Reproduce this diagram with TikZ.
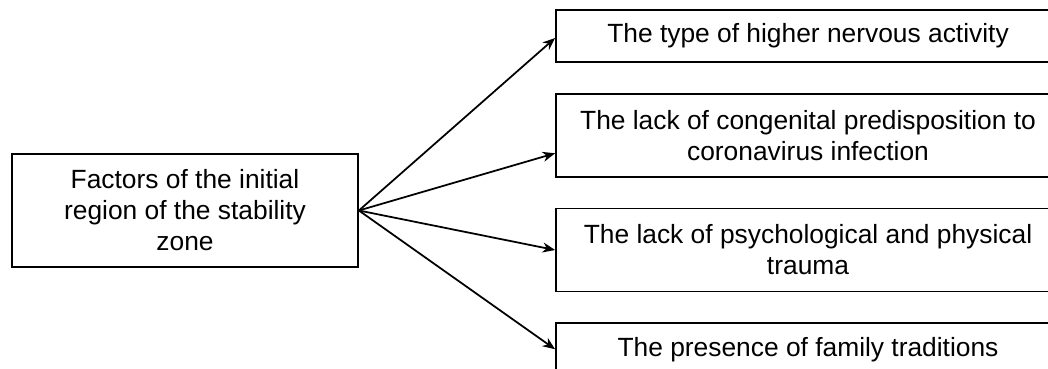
\documentclass[tikz,border=0pt]{standalone}
\usepackage{fontspec}
\setmainfont{Liberation Sans}
\usepackage{tikz}
\usetikzlibrary{positioning, calc, arrows.meta}

\begin{document}
\begin{tikzpicture}[
        node distance=0.6cm,
        origin/.style={
          align=center, draw, line width=1pt, minimum width=6.92cm, minimum height=2.26cm,
          font=\fontsize{15}{17.6}\selectfont
        },
        factor/.style={
          align=center, draw, line width=1pt, minimum width=10.08cm, minimum height=1.04cm,
          font=\fontsize{15}{17.6}\selectfont
        },
        twoline/.style={
          minimum height=1.66cm
        },
        >={Stealth[length=0.25cm, width=0.2cm, inset=0.08cm]},
      ]
        \useasboundingbox (0,0) rectangle (20.96,-7.36);

        % textfields
        \node [origin] (initial_region) at (3.70,-4.21) {Factors of the initial\\region of the stability\\zone};
        \node [factor] (nervous_activity) at (16.16,-0.72) {The type of higher nervous activity};
        \node [factor, twoline, below=of nervous_activity] (congenital) {The lack of congenital predisposition to\\coronavirus infection};
        \node [factor, twoline, below=of congenital] (trauma) {The lack of psychological and physical\\trauma};
        \node [factor, below=of trauma] (traditions) {The presence of family traditions};

        % Arrows
        \draw [line width=1pt, ->] (initial_region.east) -- ($(nervous_activity.west)+(0,-0.04)$);
        \draw [line width=1pt, ->] (initial_region.east) -- ($(congenital.west)+(0,-0.36)$);
        \draw [line width=1pt, ->] (initial_region.east) -- (trauma.west);
        \draw [line width=1pt, ->] (initial_region.east) -- (traditions.west);

      \end{tikzpicture}
\end{document}
